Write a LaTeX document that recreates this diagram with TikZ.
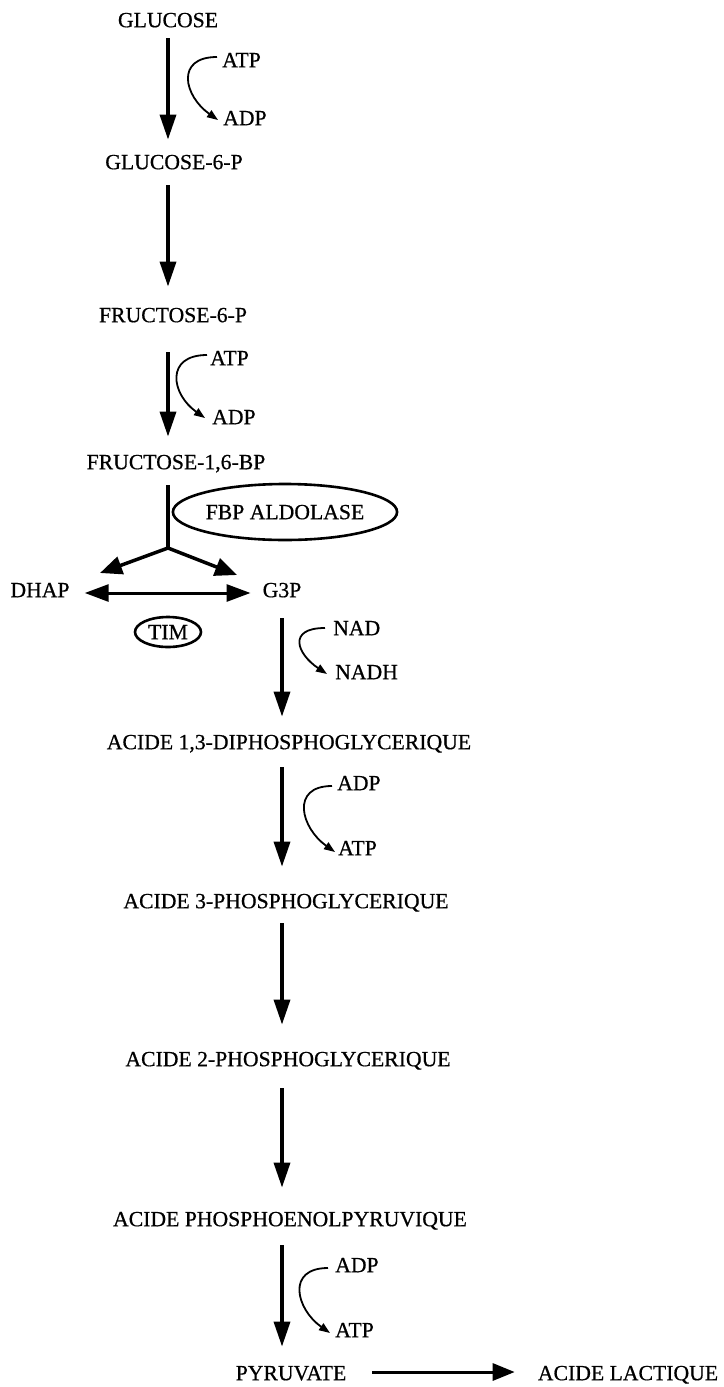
\documentclass[tikz,border=0pt]{standalone}
\usepackage{fontspec}
\setmainfont{Liberation Serif}[FakeBold=0.6]
\usetikzlibrary{arrows.meta,shapes.geometric}
\tikzset{
  lbl/.style={inner sep=0pt, text height=14.4pt, text depth=0pt, font=\fontsize{21.7}{26}\selectfont},
  cofl/.style={lbl, anchor=west},
  main/.style={line width=3.5pt, -{Triangle[length=25pt,width=16pt]}},
  bar/.style={line width=3.5pt},
  branch/.style={line width=3.5pt, -{Triangle[length=22pt,width=18pt]}},
  both/.style={line width=3pt, {Triangle[length=24pt,width=17pt]}-{Triangle[length=24pt,width=17pt]}},
  cof/.style={line width=1.8pt, -{Triangle[length=11pt,width=8pt]}},
  enz/.style={lbl, draw, ellipse, line width=2.6pt, text height=14.4pt}
}
\begin{document}
\begin{tikzpicture}[x=1pt,y=-1pt]
\useasboundingbox[fill=white] (0,0) rectangle (723,1387);
% main metabolites
\node[lbl] (glc) at (168,20) {GLUCOSE};
\node[lbl] (g6p) at (174,162) {GLUCOSE-6-P};
\node[lbl] (f6p) at (173,315) {FRUCTOSE-6-P};
\node[lbl] (fbp) at (176,462) {FRUCTOSE-1,6-BP};
\node[lbl] (dhap) at (40,590) {DHAP};
\node[lbl] (g3p) at (282,590) {G3P};
\node[lbl] (bpg) at (289,742) {ACIDE 1,3-DIPHOSPHOGLYCERIQUE};
\node[lbl] (pg3) at (286,901) {ACIDE 3-PHOSPHOGLYCERIQUE};
\node[lbl] (pg2) at (288,1059) {ACIDE 2-PHOSPHOGLYCERIQUE};
\node[lbl] (pep) at (290,1219) {ACIDE PHOSPHOENOLPYRUVIQUE};
\node[lbl] (pyr) at (291,1373) {PYRUVATE};
\node[lbl] (lac) at (628,1373) {ACIDE LACTIQUE};
% enzymes
\node[enz, minimum width=206pt, minimum height=56pt] (ald) at (285,512) {FBP ALDOLASE};
\node[enz, minimum width=66pt, minimum height=30pt] (tim) at (168,632) {TIM};
% cofactors
\node[cofl] (atp1) at (222,60) {ATP};
\node[cofl] (adp1) at (223,118) {ADP};
\node[cofl] (atp2) at (210,358) {ATP};
\node[cofl] (adp2) at (212,417) {ADP};
\node[cofl] (nad) at (333,628) {NAD};
\node[cofl] (nadh) at (335,672) {NADH};
\node[cofl] (adp3) at (337,783) {ADP};
\node[cofl] (atp3) at (338,848) {ATP};
\node[cofl] (adp4) at (335,1265) {ADP};
\node[cofl] (atp4) at (335,1330) {ATP};
% main arrows
\draw[main, shorten <=11pt, shorten >=15pt] (glc.south) -- (glc.south |- g6p.north);
\draw[main, shorten <=16pt, shorten >=21pt] (glc |- g6p.south) -- (glc |- f6p.north);
\draw[main, shorten <=30pt, shorten >=18pt] (glc |- f6p.south) -- (glc |- fbp.north);
% split
\coordinate (split) at (168,548);
\coordinate (tipL) at (100,573);
\coordinate (tipR) at (237,575);
\draw[bar, shorten <=16pt] (split |- fbp.south) -- (split);
\draw[branch] (split) -- (tipL);
\draw[branch] (split) -- (tipR);
\draw[both, shorten <=15pt, shorten >=12pt] ([yshift=-3pt]dhap.east) -- ([yshift=-3pt]g3p.west);
% lower arrows
\draw[main, shorten <=21pt, shorten >=18pt] (g3p.south) -- (g3p.south |- bpg.north);
\draw[main, shorten <=18pt, shorten >=27pt] (g3p |- bpg.south) -- (g3p |- pg3.north);
\draw[main, shorten <=15pt, shorten >=27pt] (g3p |- pg3.south) -- (g3p |- pg2.north);
\draw[main, shorten <=22pt, shorten >=24pt] (g3p |- pg2.south) -- (g3p |- pep.north);
\draw[main, shorten <=19pt, shorten >=19pt] (g3p |- pep.south) -- (g3p |- pyr.north);
\draw[main, line width=3pt, -{Triangle[length=22pt,width=17pt]}, shorten <=26pt, shorten >=23pt] ([yshift=1pt]pyr.east) -- ([yshift=1pt]lac.west);
% cofactor curves
\draw[cof] ([xshift=-5pt,yshift=3pt]atp1.west) .. controls +(-42,0) and +(-34,-24) .. ([xshift=-5pt,yshift=-2pt]adp1.west);
\draw[cof] ([xshift=-3pt,yshift=3pt]atp2.west) .. controls +(-42,0) and +(-34,-24) .. ([xshift=-7pt,yshift=-1pt]adp2.west);
\draw[cof] ([xshift=-8pt]nad.west) .. controls +(-38,0) and +(-30,-20) .. ([xshift=-8pt,yshift=-2pt]nadh.west);
\draw[cof] ([xshift=-5pt,yshift=-3pt]adp3.west) .. controls +(-42,0) and +(-34,-24) .. ([xshift=-3pt,yshift=-4pt]atp3.west);
\draw[cof] ([xshift=-7pt,yshift=-3pt]adp4.west) .. controls +(-42,0) and +(-34,-24) .. ([xshift=-5pt,yshift=-3pt]atp4.west);
\end{tikzpicture}
\end{document}
